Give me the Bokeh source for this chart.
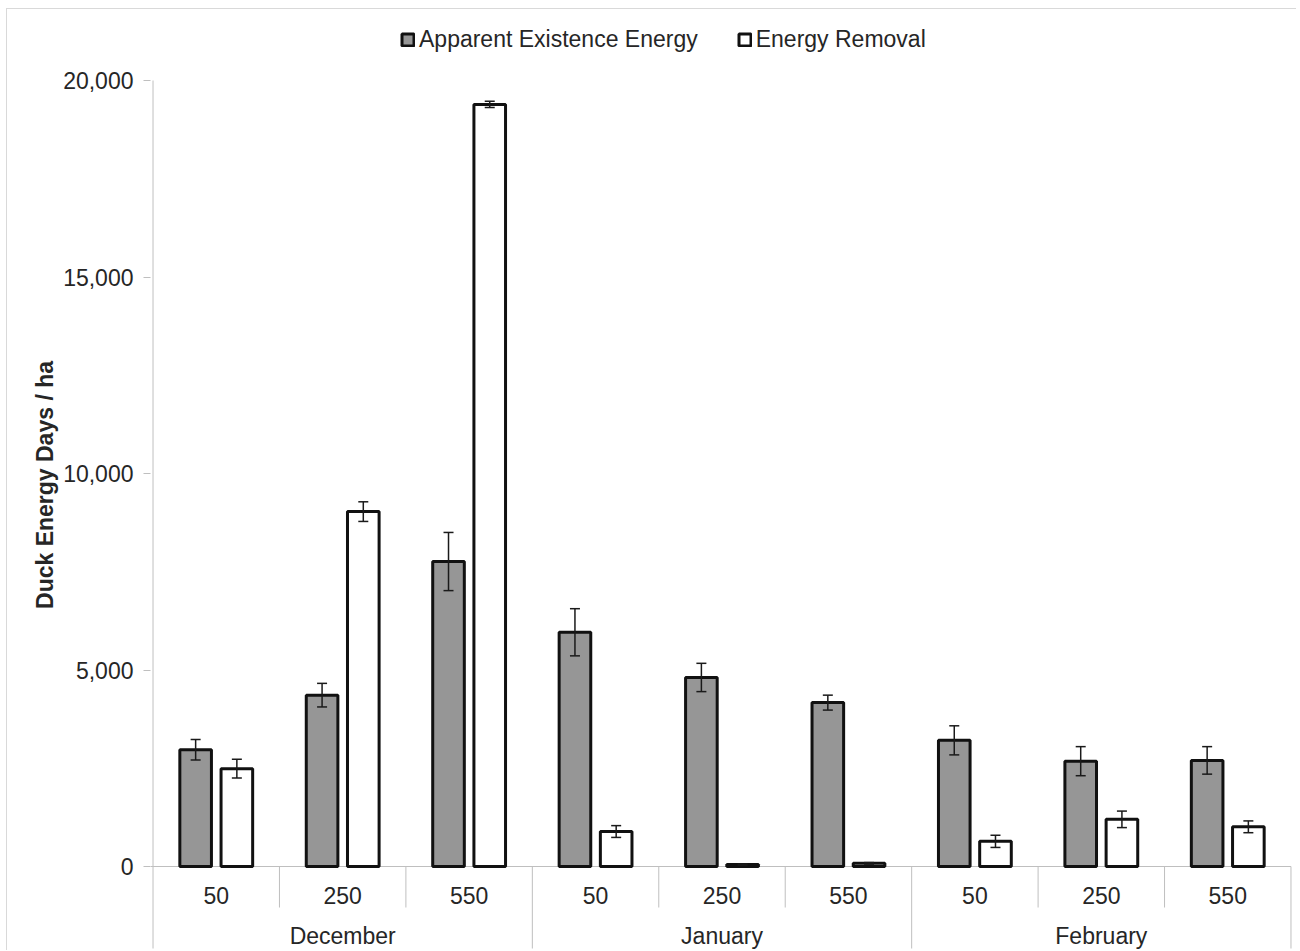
from bokeh.plotting import figure
from bokeh.models import (Range1d, ColumnDataSource, FixedTicker, NumeralTickFormatter,
                          Legend, LegendItem, Whisker, TeeHead)
from bokeh.core.properties import value
from bokeh.embed import file_html
from bokeh.resources import INLINE

# ---- data ----
months = ["December", "January", "February"]
concs = ["50", "250", "550"]
aee = [2970, 4360, 7760, 5960, 4810, 4170, 3210, 2680, 2700]          # Apparent Existence Energy
aee_err = [260, 300, 740, 600, 360, 190, 370, 370, 350]
er = [2490, 9030, 19390, 890, 50, 80, 640, 1200, 1010]                  # Energy Removal
er_err = [240, 250, 80, 150, 15, 20, 155, 210, 150]
y_ticks = [0, 5000, 10000, 15000, 20000]

FONT = "Liberation Sans"
TXT = "#262626"
AXC = "#bfbfbf"

n = len(months) * len(concs)
centers = [i + 0.5 for i in range(n)]
sub_labels = [c for m in months for c in concs]
off = 0.163
bw = 0.25

px_per_unit = 786 / 20000.0
y_bottom = -(951 - 866) / px_per_unit
line_bottom = -(948 - 866) / px_per_unit
y_top = 20000 + (80 - 18) / px_per_unit

p = figure(width=1290, height=942,
           x_range=Range1d(-0.02, 9.02), y_range=Range1d(y_bottom, y_top),
           output_backend="svg", toolbar_location=None,
           x_axis_location=None,
           min_border_left=143, min_border_right=4, min_border_top=9, min_border_bottom=0)
p.styles = {"margin-left": "6px", "margin-top": "8px",
            "border-left": "1px solid #d9d9d9", "border-top": "1px solid #d9d9d9"}
p.outline_line_color = None
p.grid.visible = False
p.background_fill_color = "white"
p.border_fill_color = "white"

ax = p.yaxis[0]
ax.ticker = FixedTicker(ticks=y_ticks)
ax.formatter = NumeralTickFormatter(format="0,0")
ax.axis_line_color = None
ax.major_tick_in = 0
ax.major_tick_out = 7
ax.major_tick_line_color = AXC
ax.minor_tick_line_color = None
ax.major_label_text_font = FONT
ax.major_label_text_font_size = "23px"
ax.major_label_text_color = TXT
ax.major_label_standoff = 10
ax.axis_label = "Duck Energy Days / ha"
ax.axis_label_text_font = FONT
ax.axis_label_text_font_size = "23px"
ax.axis_label_text_font_style = "bold"
ax.axis_label_text_color = TXT
ax.axis_label_standoff = 2

# axis frame lines
p.segment(x0=[0], y0=[line_bottom], x1=[0], y1=[y_ticks[-1]], line_color=AXC, line_width=1)
p.segment(x0=[-0.02], y0=[0], x1=[n], y1=[0], line_color=AXC, line_width=1)
sep_x = list(range(1, n + 1))
sep_y1 = [line_bottom if k % len(concs) == 0 else -(907 - 866) / px_per_unit for k in sep_x]
p.segment(x0=sep_x, y0=[0] * len(sep_x), x1=sep_x, y1=sep_y1, line_color=AXC, line_width=1)

# bars
src = ColumnDataSource(dict(
    xa=[c - off for c in centers], xe=[c + off for c in centers],
    aee=aee, er=er,
    aee_up=[v + e for v, e in zip(aee, aee_err)], aee_lo=[v - e for v, e in zip(aee, aee_err)],
    er_up=[v + e for v, e in zip(er, er_err)], er_lo=[v - e for v, e in zip(er, er_err)],
))
r1 = p.vbar(x="xa", top="aee", bottom=0, width=bw, source=src,
            fill_color="#969696", line_color="#111111", line_width=3)
r2 = p.vbar(x="xe", top="er", bottom=0, width=bw, source=src,
            fill_color="white", line_color="#111111", line_width=3)

for base, up, lo in (("xa", "aee_up", "aee_lo"), ("xe", "er_up", "er_lo")):
    w = Whisker(source=src, base=base, upper=up, lower=lo, dimension="height",
                line_color="#1a1a1a", line_width=1.5, level="overlay",
                upper_head=TeeHead(size=10, line_width=1.5, line_color="#1a1a1a"),
                lower_head=TeeHead(size=10, line_width=1.5, line_color="#1a1a1a"))
    p.add_layout(w)

# category labels
p.text(x=centers, y=[-(895 - 866) / px_per_unit] * n, text=sub_labels,
       text_align="center", text_baseline="middle",
       text_font=value(FONT), text_font_size="23px", text_color=TXT)
m_centers = [len(concs) * i + len(concs) / 2 for i in range(len(months))]
p.text(x=m_centers, y=[-(935 - 866) / px_per_unit] * len(months), text=months,
       text_align="center", text_baseline="middle",
       text_font=value(FONT), text_font_size="23px", text_color=TXT)

legend = Legend(items=[LegendItem(label="Apparent Existence Energy", renderers=[r1]),
                       LegendItem(label="Energy Removal", renderers=[r2])],
                orientation="horizontal", location=(250, 898),
                border_line_color=None, background_fill_alpha=0,
                padding=0, margin=0, spacing=39,
                glyph_width=15, glyph_height=15, label_standoff=4, label_height=23,
                label_text_font=FONT, label_text_font_size="23px", label_text_color=TXT)
p.add_layout(legend)

open("out.html", "w").write(file_html(p, INLINE))
